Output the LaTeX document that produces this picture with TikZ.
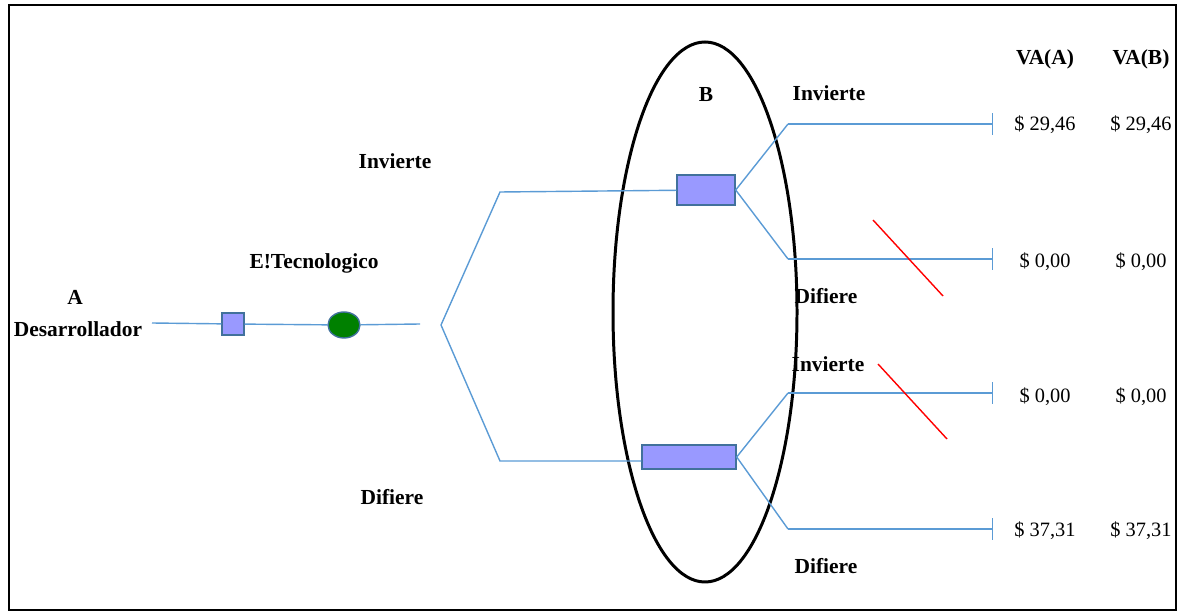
\documentclass[tikz,border=0pt]{standalone}
\usepackage{fontspec}
\setmainfont{Liberation Serif}
\usetikzlibrary{arrows.meta,shapes.geometric}
\definecolor{lineblue}{RGB}{91,155,213}
\definecolor{boxfill}{RGB}{153,153,255}
\definecolor{boxdraw}{RGB}{65,113,156}
\definecolor{chancegreen}{RGB}{0,128,0}
\begin{document}
\begin{tikzpicture}[x=0.02cm,y=-0.02cm,
  font=\fontsize{11}{13}\selectfont,
  branch/.style={draw=lineblue,line width=0.8pt},
  leaf/.style={branch,-{Bar[width=12pt,line width=0.8pt]}},
  lbl/.style={font=\fontsize{12.2}{14}\selectfont\bfseries},
  val/.style={font=\fontsize{11.6}{14}\selectfont},
  decision/.style={rectangle,draw=boxdraw,fill=boxfill,line width=0.8pt,inner sep=0pt},
  chance node/.style={ellipse,draw=boxdraw,fill=chancegreen,line width=0.8pt,inner sep=0pt},
  cut/.style={draw=red,line width=0.8pt}]

  \useasboundingbox (0,0) rectangle (1179,614);
  \draw[line width=0.8pt] (9,5) rectangle (1176,610);

  % player B
  \draw[line width=1.7pt] (705,312) ellipse [x radius=92,y radius=270];

  \node[lbl] (a) at (75,297) {A};
  \node[lbl] (dev) at (78,329) {Desarrollador};
  \node[lbl] (et) at (314,263) {E!Tecnologico};
  \node[lbl] (inv) at (395,161) {Invierte};
  \node[lbl] (dif) at (392,497) {Difiere};
  \node[lbl] (b) at (706,95) {B};
  \node[lbl] (inv1) at (829,93) {Invierte};
  \node[lbl] (dif1) at (826,296) {Difiere};
  \node[lbl] (inv2) at (828,364) {Invierte};
  \node[lbl] (dif2) at (826,566) {Difiere};
  \node[lbl] (vaa) at (1045,59) {VA(A)};
  \node[lbl] (vab) at (1141,59) {VA(B)};

  \node[decision,minimum width=22*0.02cm,minimum height=22*0.02cm] (sq) at (233,324) {};
  \node[chance node,minimum width=32*0.02cm,minimum height=26*0.02cm] (ch) at (344,325) {};
  \node[decision,minimum width=58*0.02cm,minimum height=30*0.02cm] (b1) at (706,190) {};
  \node[decision,minimum width=94*0.02cm,minimum height=24*0.02cm] (b2) at (689,457) {};

  \coordinate (s) at (152,323);
  \coordinate (t) at (420,324);
  \coordinate (br) at (441,325);
  \coordinate (up) at (500,192);
  \coordinate (dn) at (500,461);
  \coordinate (k1) at (788,124);
  \coordinate (k2) at (788,259);
  \coordinate (k3) at (788,393);
  \coordinate (k4) at (788,529);
  \coordinate (e1) at (993,124);
  \coordinate (e2) at (993,259);
  \coordinate (e3) at (993,393);
  \coordinate (e4) at (993,529);

  \node[val] (v1a) at (1045,125) {\$ 29,46};
  \node[val] (v1b) at (1141,125) {\$ 29,46};
  \node[val] (v2a) at (1045,262) {\$ 0,00};
  \node[val] (v2b) at (1141,262) {\$ 0,00};
  \node[val] (v3a) at (1045,397) {\$ 0,00};
  \node[val] (v3b) at (1141,397) {\$ 0,00};
  \node[val] (v4a) at (1045,531) {\$ 37,31};
  \node[val] (v4b) at (1141,531) {\$ 37,31};

  \path[branch]
    (s) -- (sq)
    (sq) -- (ch)
    (ch) -- (t)
    (br) -- (up) -- (b1)
    (br) -- (dn) -- (b2.west |- dn)
    (b1.east) -- (k1)
    (b1.east) -- (k2)
    (b2.east) -- (k3)
    (b2.east) -- (k4);
  \draw[leaf] (k1) -- (e1);
  \draw[leaf] (k2) -- (e2);
  \draw[leaf] (k3) -- (e3);
  \draw[leaf] (k4) -- (e4);

  \coordinate (r1) at (873,220);
  \coordinate (r2) at (943,296);
  \coordinate (r3) at (878,364);
  \coordinate (r4) at (947,439);
  \draw[cut] (r1) -- (r2);
  \draw[cut] (r3) -- (r4);
\end{tikzpicture}
\end{document}
